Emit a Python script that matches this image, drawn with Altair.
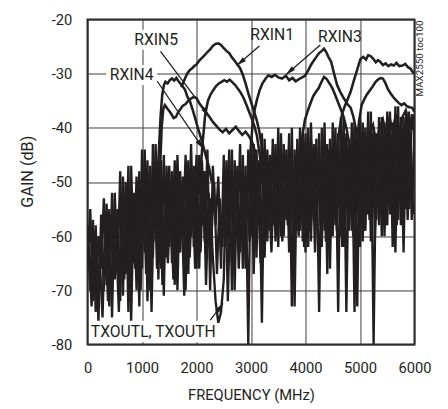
import math
import altair as alt
import pandas as pd

FONT = "Roboto"
INK = "#231f20"

# ---------------- axes ----------------
x_ticks = [0, 1000, 2000, 3000, 4000, 5000, 6000]
y_ticks = [-80, -70, -60, -50, -40, -30, -20]

# ---------------- noisy out-of-band traces ----------------
noise_freq_a = list(range(0, 6001, 50))
noise_freq_b = list(range(25, 6000, 50))

txoutl = [
    -58, -70, -57, -74, -60, -66,
    -53, -69, -55, -75, -52, -67,
    -48, -71, -50, -74, -47, -65, -49, -73,
    -44, -63, -46, -70, -43, -61, -47, -66, -45, -64,
    -47, -65, -46, -70, -48, -60, -45, -67, -43, -62,
    -45, -66, -46, -61, -44, -70, -47, -58, -49, -66,
    -45, -62, -44, -70, -46, -60, -43, -66, -47, -80,
    -42, -67, -44, -58, -41, -64, -44, -59, -42, -61,
    -40, -60, -43, -57, -41, -73, -44, -59, -40, -61,
    -41, -62, -39, -57, -42, -74, -40, -59, -43, -66,
    -39, -58, -41, -60, -38, -74, -42, -59, -39, -73,
    -38, -61, -40, -56, -37, -80, -41, -58, -38, -60,
    -37, -56, -39, -63, -36, -58, -38, -55, -37, -57, -40,
]
txouth = [
    -66, -55, -72, -58, -76, -56,
    -70, -54, -73, -52, -68, -55,
    -72, -49, -67, -47, -76, -52, -70, -48,
    -66, -44, -72, -47, -64, -43, -68, -46, -71, -47,
    -62, -48, -69, -45, -63, -49, -70, -46, -60, -47,
    -66, -45, -58, -48, -62, -53, -64, -72, -76, -74,
    -68, -46, -61, -44, -70, -47, -63, -45, -66, -44,
    -60, -43, -64, -46, -76, -42, -61, -45, -58, -43,
    -62, -41, -60, -44, -63, -40, -73, -42, -59, -41,
    -63, -40, -61, -43, -58, -41, -62, -39, -67, -42,
    -60, -40, -74, -38, -62, -41, -59, -39, -74, -40,
    -62, -39, -59, -37, -61, -40, -57, -38, -60, -39,
    -58, -37, -62, -36, -57, -38, -63, -37, -55, -38, -41,
]
isolation = [
    -62, -73, -59, -70, -64, -75,
    -58, -72, -56, -66, -60, -74,
    -55, -68, -51, -72, -54, -66, -50, -70,
    -49, -67, -52, -74, -48, -66, -50, -69, -51, -65,
    -52, -68, -50, -63, -54, -71, -49, -64, -51, -66,
    -50, -63, -48, -69, -52, -60, -50, -67, -53, -62,
    -49, -72, -51, -60, -48, -66, -52, -63, -50, -61,
    -47, -62, -49, -65, -46, -59, -50, -63, -47, -60,
    -45, -61, -48, -58, -44, -63, -47, -60, -45, -62,
    -46, -59, -44, -63, -47, -58, -45, -61, -44, -60,
    -43, -59, -45, -62, -42, -58, -46, -60, -43, -57,
    -42, -59, -44, -57, -41, -60, -45, -56, -42, -58,
    -40, -55, -43, -58, -40, -54, -42, -57, -41, -56,
]

# ---------------- receive-path traces ----------------
rxin4_f = [1250, 1280, 1310, 1340, 1370, 1400, 1430, 1470, 1510, 1550, 1590, 1630, 1670,
           1710, 1750, 1790, 1830, 1880, 1930, 1980, 2030, 2080, 2130, 2180, 2230, 2280]
rxin4_g = [-56, -50, -44, -38, -34, -32.2, -31.5, -31.8, -31.2, -30.9, -31.3, -30.8, -31.4,
           -31.9, -32.4, -33.0, -34.2, -35.1, -36.7, -38.4, -40.2, -41.8, -43.6, -45.5, -47.3, -50]

rxin5_f = [1300, 1330, 1360, 1390, 1420, 1460, 1500, 1540, 1580, 1620, 1660, 1700, 1750,
           1800, 1850, 1900, 1950, 2000, 2060, 2120, 2180, 2240, 2300, 2360, 2420, 2480,
           2540, 2600, 2660, 2720, 2780, 2840, 2900, 2960, 3020, 3080, 3140]
rxin5_g = [-55, -48, -40, -36.5, -35.8, -36.4, -36.9, -37.5, -38.2, -38.0, -37.2, -36.6, -35.9,
           -35.6, -35.0, -34.6, -34.3, -34.5, -35.6, -36.4, -37.3, -38.0, -38.9, -39.6, -40.3, -40.8,
           -40.2, -41.0, -40.4, -39.8, -40.6, -41.3, -40.7, -41.5, -42.6, -44.5, -48]

rxin2_f = [2060, 2110, 2160, 2210, 2260, 2310, 2360, 2410, 2460, 2510, 2560, 2610, 2660,
           2710, 2760, 2810, 2860, 2910, 2960, 3010, 3060, 3110, 3160, 3220]
rxin2_g = [-50, -43, -37.5, -35, -33.8, -33, -32.3, -31.8, -31.5, -31.2, -31.5, -31.1, -31.6,
           -32.1, -32.8, -33.5, -34.4, -35.6, -36.9, -38.2, -39.6, -41.5, -45, -50]

rxin1_f = [1720, 1760, 1800, 1840, 1880, 1920, 1960, 2000, 2050, 2100, 2150, 2200, 2250, 2300,
           2350, 2400, 2450, 2500, 2550, 2600, 2650, 2700, 2750, 2800, 2850, 2900, 2950, 3000,
           3050, 3100, 3150, 3200, 3250, 3300]
rxin1_g = [-32.5, -31.6, -30.6, -29.8, -29.3, -29.0, -28.6, -28.3, -27.6, -27.1, -26.6, -26.0, -25.5, -24.9,
           -24.5, -24.4, -24.7, -25.3, -25.8, -26.2, -27.0, -27.6, -28.3, -29.0, -30.2, -31.8, -33.6, -35.2,
           -36.8, -38.4, -40.5, -43.5, -47, -51]

rxin3_f = [2950, 2990, 3030, 3070, 3110, 3160, 3210, 3270, 3320, 3380, 3440, 3500, 3570, 3640,
           3700, 3760, 3820, 3880, 3940, 3990, 4050, 4100, 4150, 4200, 4250, 4300, 4340, 4380,
           4420, 4470, 4520, 4580, 4640, 4700, 4770, 4830, 4880, 4920, 4960, 5000, 5050]
rxin3_g = [-52, -45, -39, -36.5, -34.8, -33, -31.8, -30.9, -30.3, -30.6, -30.2, -30.7, -30.9, -30.4,
           -31.2, -30.8, -31.4, -31.0, -30.7, -30.4, -29.4, -28.4, -27.6, -26.9, -26.2, -25.8, -25.4, -26.0,
           -26.9, -27.8, -29.8, -32.1, -33.4, -34.5, -35.6, -36.3, -38.0, -40.0, -42.5, -45.5, -50]

hump_f = [3850, 3900, 3950, 3990, 4040, 4090, 4140, 4190, 4240, 4290, 4340, 4390, 4440, 4490,
          4540, 4590, 4640, 4700, 4760, 4820, 4880]
hump_g = [-52, -46, -41, -38.5, -36.9, -35.5, -34.2, -33.4, -32.7, -31.6, -30.6, -31.0, -31.8, -32.6,
          -33.8, -35.1, -36.4, -38.0, -40.5, -44, -50]

high_f = [4520, 4570, 4620, 4670, 4720, 4770, 4830, 4880, 4940, 4980, 5010, 5060, 5110, 5150, 5190,
          5240, 5290, 5330, 5370, 5420, 5470, 5520, 5570, 5620, 5670, 5720, 5780, 5830, 5880, 5930,
          5960, 5995]
high_g = [-50, -45, -40.5, -37.5, -36, -34.8, -33.3, -31.5, -29.6, -28.2, -27.3, -26.9, -27.4, -26.6, -26.7,
          -27.2, -27.9, -27.5, -27.8, -28.4, -28.1, -28.6, -28.3, -28.5, -28.0, -28.6, -28.5, -28.2, -28.8, -29.1,
          -29.6, -30.0]

mid_f = [4900, 4940, 4980, 5030, 5080, 5130, 5180, 5230, 5280, 5330, 5380, 5420, 5460, 5510, 5560,
         5610, 5660, 5710, 5760, 5810, 5860, 5910, 5960, 5995]
mid_g = [-50, -44, -39, -35.8, -34.7, -33.8, -33.1, -32.4, -31.6, -31.1, -30.8, -30.9, -31.6, -32.8, -33.6,
         -34.3, -34.9, -35.4, -35.8, -35.5, -36.0, -36.2, -36.3, -37.0]

low_f = [4700, 4760, 4820, 4880, 4940, 5000, 5060, 5120, 5180, 5240, 5300, 5360, 5420, 5480, 5540,
         5600, 5660, 5720, 5780, 5840, 5900, 5960, 5995]
low_g = [-50, -46, -44, -45, -42, -43, -40.5, -44, -41, -39.5, -43, -40, -38.5, -41.5, -38,
         -40.5, -37.5, -41, -38, -36.8, -40, -37.5, -39]

# ---------------- annotations ----------------
label_text = ["RXIN5", "RXIN4", "RXIN1", "RXIN3", "TXOUTL, TXOUTH"]
label_f = [1261, 811, 3388, 4631, 1207]
label_g = [-23.8, -30.2, -22.9, -23.3, -77.8]

box_f1 = [847, 342, 50]
box_f2 = [1712, 1279, 2330]
box_g1 = [-21.9, -28.4, -75.6]
box_g2 = [-25.6, -32.1, -79.6]

arrow_f1 = [1339, 1279, 3154, 4271, 2252]
arrow_g1 = [-25.9, -31.4, -24.9, -24.7, -75.5]
arrow_f2 = [2235, 2126, 2739, 3640, 2487]
arrow_g2 = [-37.9, -43.9, -28.5, -30.2, -72.4]

# ---------------- build tables ----------------
W, H = 333, 331
rows = []
for name, fs, gs in [("TXOUTL", noise_freq_a, txoutl), ("TXOUTH", noise_freq_a, txouth),
                     ("ISO", noise_freq_b, isolation)]:
    for f, g in zip(fs, gs):
        rows.append({"s": name, "f": f, "g": g})
noise_df = pd.DataFrame(rows)

rows = []
for name, fs, gs in [("RXIN4", rxin4_f, rxin4_g), ("RXIN5", rxin5_f, rxin5_g),
                     ("RXIN2", rxin2_f, rxin2_g), ("RXIN1", rxin1_f, rxin1_g),
                     ("RXIN3", rxin3_f, rxin3_g), ("HUMP", hump_f, hump_g),
                     ("HIGH", high_f, high_g), ("MID", mid_f, mid_g), ("LOW", low_f, low_g)]:
    for f, g in zip(fs, gs):
        rows.append({"s": name, "f": f, "g": g})
rx_df = pd.DataFrame(rows)

label_df = pd.DataFrame({"t": label_text, "f": label_f, "g": label_g})
box_df = pd.DataFrame({"f": box_f1, "f2": box_f2, "g": box_g1, "g2": box_g2})

kx = W / 6000.0
ky = H / 60.0
angles = []
for a, b, c, d in zip(arrow_f1, arrow_g1, arrow_f2, arrow_g2):
    dx = (c - a) * kx
    dy = -(d - b) * ky
    angles.append(math.degrees(math.atan2(dx, -dy)) % 360)
arrow_df = pd.DataFrame({"f": arrow_f1, "g": arrow_g1, "f2": arrow_f2, "g2": arrow_g2, "ang": angles})
head_df = pd.DataFrame({"f": arrow_f2, "g": arrow_g2, "ang": angles})

xs = alt.Scale(domain=[0, 6000], nice=False, zero=False)
ys = alt.Scale(domain=[-80, -20], nice=False, zero=False)

x_axis = alt.Axis(values=x_ticks, title="FREQUENCY (MHz)", grid=True, ticks=False, domain=False,
                  labelExpr="'' + datum.value",
                  labelPadding=24, labelBaseline="middle", labelFlush=False, labelOverlap=False,
                  titleY=51, titleBaseline="middle")
y_axis = alt.Axis(values=y_ticks, title=None, grid=True, ticks=False, domain=False,
                  labelExpr="'' + datum.value",
                  labelPadding=16, labelFlush=False, labelOverlap=False)

X = alt.X("f:Q", scale=xs, axis=x_axis)
Y = alt.Y("g:Q", scale=ys, axis=y_axis)

noise = alt.Chart(noise_df).mark_line(color=INK, strokeWidth=2.4, clip=True).encode(
    x=X, y=Y, detail="s:N",
)

rx = alt.Chart(rx_df).mark_line(color=INK, strokeWidth=2.6, clip=True).encode(
    x=X, y=Y, detail="s:N",
)

boxes = alt.Chart(box_df).mark_rect(color="white").encode(
    x=X, x2="f2:Q", y=Y, y2="g2:Q",
)

labels = alt.Chart(label_df).mark_text(font=FONT, fontSize=16, color=INK, align="center",
                                       baseline="middle").encode(
    x=X, y=Y, text="t:N",
)

arrows = alt.Chart(arrow_df).mark_rule(color=INK, strokeWidth=1.3).encode(
    x=X, x2="f2:Q", y=Y, y2="g2:Q",
)

heads = alt.Chart(head_df).mark_point(shape="M0,0L-0.4,1.6L0.4,1.6Z", filled=True, size=160,
                                      color=INK, opacity=1, strokeWidth=0).encode(
    x=X, y=Y, angle=alt.Angle("ang:Q", scale=None),
)

tag = alt.Chart(pd.DataFrame({"t": ["MAX2550 toc100"]})).mark_text(
    font=FONT, fontSize=10, color=INK, angle=270, align="right", baseline="middle"
).encode(x=alt.value(339), y=alt.value(1), text="t:N")

ytitle = alt.Chart(pd.DataFrame({"t": ["GAIN (dB)"]})).mark_text(
    font=FONT, fontSize=16.5, color=INK, angle=270, align="center", baseline="middle"
).encode(x=alt.value(-61), y=alt.value(155), text="t:N")

chart = alt.layer(noise, rx, boxes, labels, arrows, heads, tag, ytitle).properties(
    width=W, height=H,
    autosize=alt.AutoSizeParams(type="none"),
    padding={"left": 81, "top": 8, "right": 26, "bottom": 62},
).configure_view(
    stroke=INK, strokeWidth=2
).configure_axis(
    gridColor="#3a3a3a", gridWidth=1, gridOpacity=1,
    labelFont=FONT, labelFontSize=15, labelColor=INK,
    titleFont=FONT, titleFontSize=15, titleColor=INK, titleFontWeight="normal",
)

chart.save("out.html", embed_options={"renderer": "svg", "actions": False})
